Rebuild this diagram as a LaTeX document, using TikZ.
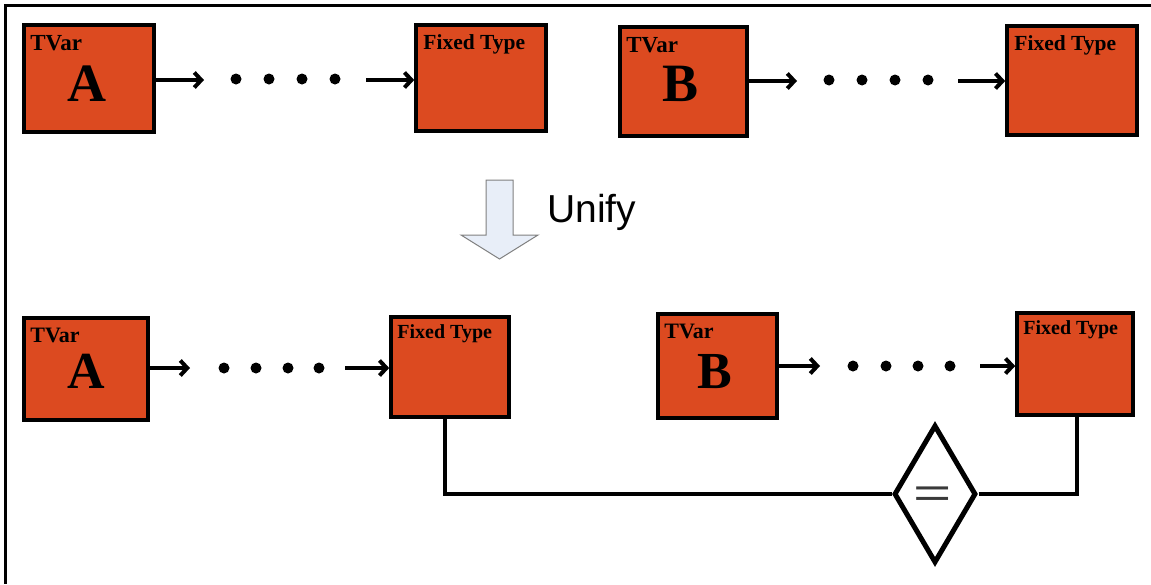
\documentclass[tikz,border=0pt]{standalone}
\usepackage{fontspec}
\setmainfont{Liberation Serif}
\newfontfamily\arialfont{Liberation Sans}
\usetikzlibrary{arrows.meta,shapes.geometric,calc}
\definecolor{boxfill}{HTML}{DC4A20}
\definecolor{unifyfill}{HTML}{E8EEF8}
\definecolor{unifyline}{HTML}{808080}
\definecolor{eqgray}{HTML}{3A3A3A}
\tikzset{
  tbox/.style={draw=black, line width=3.6pt, fill=boxfill, inner sep=0pt},
  conn/.style={line width=4pt, -{Straight Barb[length=7pt,width=15pt,line width=4pt]}, line join=round, line cap=butt},
  wire/.style={line width=4.5pt, line join=miter},
  dotmark/.style={circle, fill=black, inner sep=0pt, minimum size=11pt},
  smalllbl/.style={font=\bfseries\fontsize{23}{23}\selectfont, inner sep=0pt, anchor=base west},
  fixlbl/.style={font=\bfseries\fontsize{21.5}{21.5}\selectfont, inner sep=0pt, anchor=base west},
  biglbl/.style={font=\bfseries\fontsize{54}{54}\selectfont, inner sep=0pt, anchor=base},
}
\begin{document}
\begin{tikzpicture}[x=1pt, y=-1pt]
\useasboundingbox (0,0) rectangle (1151,584);
% frame (top and left edges)
\draw[line width=3pt] (1151,5) -- (5,5) -- (5,584);

% ---------- upper row ----------
\node[tbox, minimum width=130pt, minimum height=107pt] (a1) at (89,78.5) {};
\node[tbox, minimum width=130pt, minimum height=106pt] (f1) at (481,78) {};
\node[tbox, minimum width=127pt, minimum height=109pt] (b1) at (683.5,81.5) {};
\node[tbox, minimum width=130pt, minimum height=109pt] (f2) at (1072,80.5) {};

\node[smalllbl] (a1t) at ($(a1.north west)+(8,27)$) {TVar};
\node[biglbl] (a1l) at ($(a1.north)+(-2,78)$) {A};
\node[fixlbl] (f1t) at ($(f1.north west)+(9,26)$) {Fixed Type};
\node[smalllbl] (b1t) at ($(b1.north west)+(8,27)$) {TVar};
\node[biglbl] (b1l) at ($(b1.north)+(-3,76)$) {B};
\node[fixlbl] (f2t) at ($(f2.north west)+(9,26)$) {Fixed Type};

\coordinate (a1e) at (204,80);
\coordinate (f1s) at (366,80);
\node[dotmark] (d11) at (236,79) {};
\node[dotmark] (d12) at (269,79) {};
\node[dotmark] (d13) at (302,79) {};
\node[dotmark] (d14) at (335,79) {};
\draw[conn] (a1.east |- a1e) -- (a1e);
\draw[conn] (f1s) -- (f1.west |- f1s);

\coordinate (b1e) at (797,81);
\coordinate (f2s) at (958,81);
\node[dotmark] (d21) at (829,80) {};
\node[dotmark] (d22) at (862,80) {};
\node[dotmark] (d23) at (895,80) {};
\node[dotmark] (d24) at (928,80) {};
\draw[conn] (b1.east |- b1e) -- (b1e);
\draw[conn] (f2s) -- (f2.west |- f2s);

% ---------- unify step ----------
\draw[draw=unifyline, fill=unifyfill, line width=1pt, line join=miter]
  (486,180) -- (513,180) -- (513,235) -- (538,235) -- (499.5,259)
  -- (461,235) -- (486,235) -- cycle;
\node[font=\arialfont\fontsize{39}{39}\selectfont, inner sep=0pt, anchor=base west] (unify) at (547,222) {Unify};

% ---------- lower row ----------
\node[tbox, minimum width=124pt, minimum height=102pt] (a2) at (86,369) {};
\node[tbox, minimum width=118pt, minimum height=100pt] (f3) at (450,367) {};
\node[tbox, minimum width=119pt, minimum height=104pt] (b2) at (717.5,366) {};
\node[tbox, minimum width=116pt, minimum height=102pt] (f4) at (1075,364) {};

\node[smalllbl, font=\bfseries\fontsize{22}{22}\selectfont] (a2t) at ($(a2.north west)+(8,26)$) {TVar};
\node[biglbl, font=\bfseries\fontsize{52}{52}\selectfont] (a2l) at ($(a2.north)+(0,72)$) {A};
\node[fixlbl, font=\bfseries\fontsize{20}{20}\selectfont] (f3t) at ($(f3.north west)+(8,23)$) {Fixed Type};
\node[smalllbl, font=\bfseries\fontsize{22}{22}\selectfont] (b2t) at ($(b2.north west)+(8,26)$) {TVar};
\node[biglbl, font=\bfseries\fontsize{52}{52}\selectfont] (b2l) at ($(b2.north)+(-3,76)$) {B};
\node[fixlbl, font=\bfseries\fontsize{20}{20}\selectfont] (f4t) at ($(f4.north west)+(8,23)$) {Fixed Type};

\coordinate (a2e) at (190,368);
\coordinate (f3s) at (345,368);
\node[dotmark] (d31) at (224,368) {};
\node[dotmark] (d32) at (256,368) {};
\node[dotmark] (d33) at (288,368) {};
\node[dotmark] (d34) at (319,368) {};
\draw[conn] (a2.east |- a2e) -- (a2e);
\draw[conn] (f3s) -- (f3.west |- f3s);

\coordinate (b2e) at (820,366);
\coordinate (f4s) at (980,366);
\node[dotmark] (d41) at (853,366) {};
\node[dotmark] (d42) at (886,366) {};
\node[dotmark] (d43) at (918,366) {};
\node[dotmark] (d44) at (950,366) {};
\draw[conn] (b2.east |- b2e) -- (b2e);
\draw[conn] (f4s) -- (f4.west |- f4s);

% ---------- equality check ----------
\node[diamond, draw=black, line width=5pt, fill=white, minimum width=82pt, minimum height=138pt,
      inner sep=0pt] (eq) at (935,494) {};
\node[text=eqgray, font=\arialfont\fontsize{42}{42}\selectfont, xscale=1.56, inner sep=0pt] (eqsign) at (933,497) {=};
\coordinate (f3o) at (445,417);
\coordinate (f4o) at (1077,415);
\draw[wire] (f3o) |- (eq.west);
\draw[wire] (eq.east) -| (f4o);
\end{tikzpicture}
\end{document}
